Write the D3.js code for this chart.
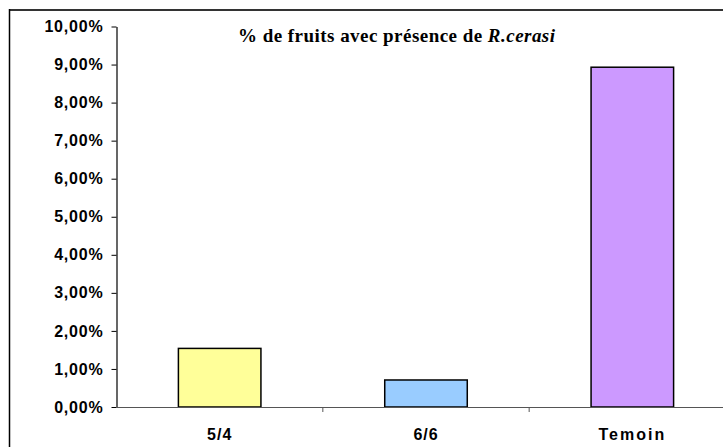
<!DOCTYPE html>
<html><head><meta charset="utf-8">
<script src="https://cdn.jsdelivr.net/npm/d3@7"></script>
<style>body{margin:0;background:#fff}svg{display:block}</style>
</head><body>
<svg id="c" width="723" height="447"></svg>
<script>
const categories = ["5/4", "6/6", "Temoin"];
const values = [0.0154, 0.0071, 0.0893];
const colors = ["#FFFF99", "#99CCFF", "#CC99FF"];
const yTicks = [0, 0.01, 0.02, 0.03, 0.04, 0.05, 0.06, 0.07, 0.08, 0.09, 0.10];
const titleMain = "% de fruits avec présence de ";
const titleItalic = "R.cerasi";

const svg = d3.select("#c");
const x0 = 116.5, x1 = 735.5, yTop = 26.5, yBot = 407;
const x = d3.scaleBand().domain(categories).range([x0, x1]).paddingInner(0.6).paddingOuter(0.3);
const y = d3.scaleLinear().domain([0, 0.10]).range([yBot, yTop]);
const fmt = v => d3.format(".2f")(v * 100).replace(".", ",") + "%";

// outer frame
svg.append("line").attr("x1", 9.5).attr("x2", 723).attr("y1", 10).attr("y2", 10).attr("stroke", "#333").attr("stroke-width", 2);
svg.append("line").attr("x1", 9.5).attr("x2", 9.5).attr("y1", 9).attr("y2", 447).attr("stroke", "#000").attr("stroke-width", 1.5);

// bars
svg.selectAll("rect.bar").data(categories).join("rect")
  .attr("class", "bar")
  .attr("x", d => x(d))
  .attr("width", x.bandwidth())
  .attr("y", (d, i) => y(values[i]))
  .attr("height", (d, i) => y(0) - y(values[i]))
  .attr("fill", (d, i) => colors[i])
  .attr("stroke", "#000").attr("stroke-width", 1.5);

// y axis
const yAxis = d3.axisLeft(y).tickValues(yTicks).tickFormat(fmt).tickSizeInner(5).tickSizeOuter(0).tickPadding(8);
const gy = svg.append("g").attr("transform", `translate(${x0},0)`).call(yAxis);
gy.select(".domain").attr("stroke", "#000").attr("stroke-width", 1.2);
gy.selectAll(".tick line").attr("stroke", "#000");
gy.selectAll("text").attr("font-family", "Liberation Sans, Arial, sans-serif").attr("font-weight", "bold")
  .attr("font-size", 16).attr("fill", "#000").style("letter-spacing", "0.8px");

// x axis
const xAxis = d3.axisBottom(x).tickSize(0).tickPadding(22);
const gx = svg.append("g").attr("transform", `translate(0,${yBot})`).call(xAxis);
gx.select(".domain").attr("stroke", "#555").attr("stroke-width", 1.2);
gx.selectAll("text").attr("font-family", "Liberation Sans, Arial, sans-serif").attr("font-weight", "bold")
  .attr("font-size", 16).attr("fill", "#000").style("letter-spacing", d => d === "Temoin" ? "2px" : "1px");
// category boundary ticks
const bounds = categories.map(c => x(c) - x.step() * x.paddingInner() / 2).concat([x(categories[categories.length-1]) + x.bandwidth() + x.step()*x.paddingInner()/2]);
svg.selectAll("line.bt").data(bounds.slice(1)).join("line").attr("class", "bt")
  .attr("x1", d => d).attr("x2", d => d).attr("y1", yBot).attr("y2", yBot + 5).attr("stroke", "#555");

// title
const t = svg.append("text").attr("x", 238).attr("y", 42)
  .attr("font-family", "Liberation Serif, Times New Roman, serif").attr("font-weight", "bold").attr("font-size", 19)
  .attr("fill", "#000").attr("textLength", 317).attr("lengthAdjust", "spacing");
t.append("tspan").text(titleMain);
t.append("tspan").attr("font-style", "italic").text(titleItalic);
</script>
</body></html>
